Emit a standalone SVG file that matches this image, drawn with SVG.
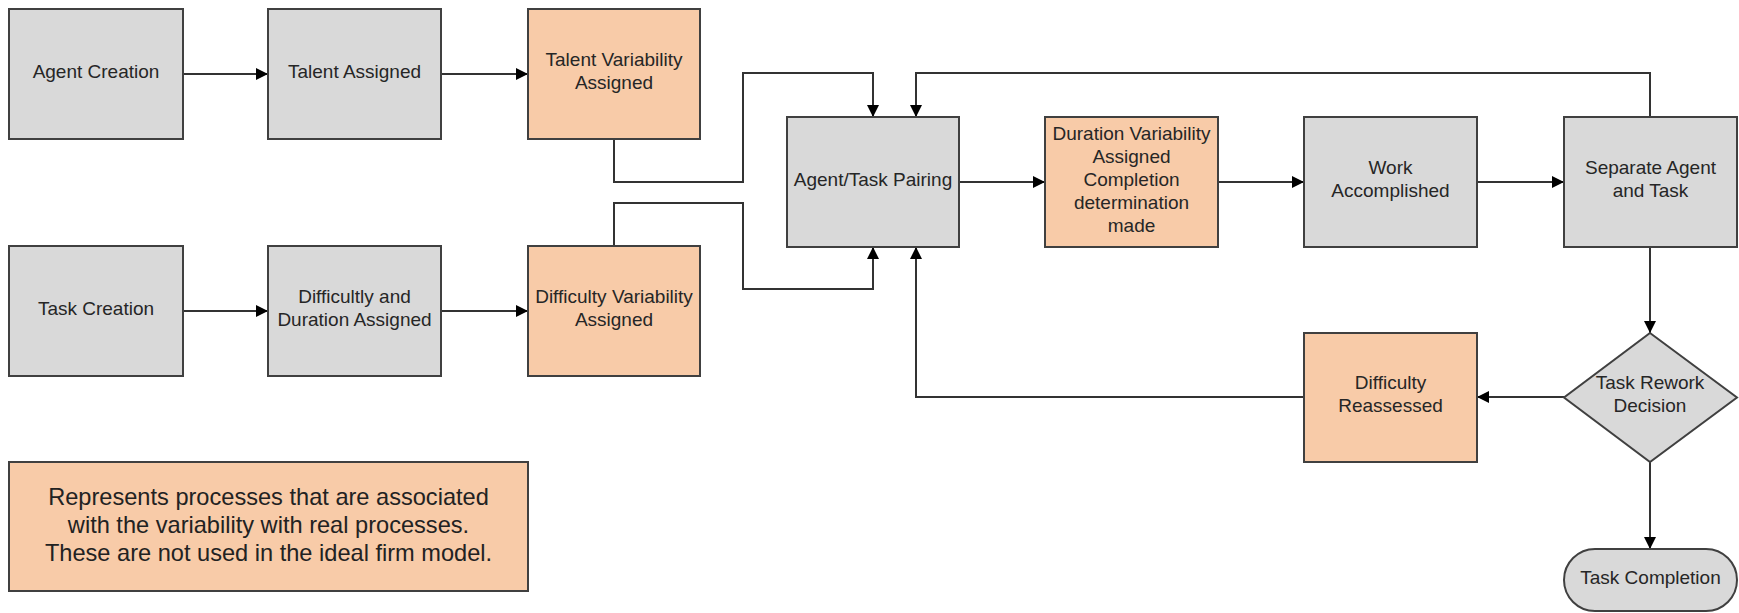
<svg xmlns="http://www.w3.org/2000/svg" width="1739" height="613" viewBox="0 0 1739 613">
<style>
.box{stroke:#404040;stroke-width:2}
.g{fill:#d9d9d9}
.o{fill:#f8cba8}
.t{font-family:"Liberation Sans",Arial,sans-serif;font-size:19px;fill:#262626;text-anchor:middle}
.lg{font-family:"Liberation Sans",Arial,sans-serif;font-size:23.6px;fill:#222;text-anchor:middle}
.c{fill:none;stroke:#333;stroke-width:2}
</style>
<defs>
<marker id="ah" markerUnits="userSpaceOnUse" markerWidth="13" markerHeight="12" refX="12" refY="6" orient="auto">
<path d="M0,0 L12,6 L0,12 z" fill="#000"/>
</marker>
</defs>
<g id="connectors">
<path class="c" d="M183,74 H268" marker-end="url(#ah)"/>
<path class="c" d="M441,74 H528" marker-end="url(#ah)"/>
<path class="c" d="M183,311 H268" marker-end="url(#ah)"/>
<path class="c" d="M441,311 H528" marker-end="url(#ah)"/>
<path class="c" d="M614,139 V182 H743 V73 H873 V117" marker-end="url(#ah)"/>
<path class="c" d="M614,246 V203 H743 V289 H873 V247" marker-end="url(#ah)"/>
<path class="c" d="M1650,116 V73 H916 V117" marker-end="url(#ah)"/>
<path class="c" d="M1304,397 H916 V247" marker-end="url(#ah)"/>
<path class="c" d="M959,182 H1045" marker-end="url(#ah)"/>
<path class="c" d="M1218,182 H1304" marker-end="url(#ah)"/>
<path class="c" d="M1477,182 H1564" marker-end="url(#ah)"/>
<path class="c" d="M1650,247 V333" marker-end="url(#ah)"/>
<path class="c" d="M1564,397 H1477" marker-end="url(#ah)"/>
<path class="c" d="M1650,462 V549" marker-end="url(#ah)"/>
</g>
<g id="agent-creation"><rect class="box g" x="9" y="9" width="174" height="130"/><text class="t" x="96" y="78">Agent Creation</text></g>
<g id="talent-assigned"><rect class="box g" x="268" y="9" width="173" height="130"/><text class="t" x="354.5" y="78">Talent Assigned</text></g>
<g id="talent-variability"><rect class="box o" x="528" y="9" width="172" height="130"/><text class="t" x="614" y="66">Talent Variability</text><text class="t" x="614" y="89">Assigned</text></g>
<g id="task-creation"><rect class="box g" x="9" y="246" width="174" height="130"/><text class="t" x="96" y="315">Task Creation</text></g>
<g id="difficulty-duration"><rect class="box g" x="268" y="246" width="173" height="130"/><text class="t" x="354.5" y="303">Difficultly and</text><text class="t" x="354.5" y="326">Duration Assigned</text></g>
<g id="difficulty-variability"><rect class="box o" x="528" y="246" width="172" height="130"/><text class="t" x="614" y="303">Difficulty Variability</text><text class="t" x="614" y="326">Assigned</text></g>
<g id="agent-task-pairing"><rect class="box g" x="787" y="117" width="172" height="130"/><text class="t" x="873" y="186">Agent/Task Pairing</text></g>
<g id="duration-variability"><rect class="box o" x="1045" y="117" width="173" height="130"/><text class="t" x="1131.5" y="140">Duration Variability</text><text class="t" x="1131.5" y="163">Assigned</text><text class="t" x="1131.5" y="186">Completion</text><text class="t" x="1131.5" y="209">determination</text><text class="t" x="1131.5" y="232">made</text></g>
<g id="work-accomplished"><rect class="box g" x="1304" y="117" width="173" height="130"/><text class="t" x="1390.5" y="174">Work</text><text class="t" x="1390.5" y="197">Accomplished</text></g>
<g id="separate-agent-task"><rect class="box g" x="1564" y="117" width="173" height="130"/><text class="t" x="1650.5" y="174">Separate Agent</text><text class="t" x="1650.5" y="197">and Task</text></g>
<g id="difficulty-reassessed"><rect class="box o" x="1304" y="333" width="173" height="129"/><text class="t" x="1390.5" y="389">Difficulty</text><text class="t" x="1390.5" y="412">Reassessed</text></g>
<g id="task-rework-decision"><polygon class="box g" points="1650,333 1737,397.5 1650,462 1564,397.5"/><text class="t" x="1650" y="389">Task Rework</text><text class="t" x="1650" y="412">Decision</text></g>
<g id="task-completion"><rect class="box g" x="1564" y="549" width="173" height="62" rx="31" ry="31"/><text class="t" x="1650.5" y="584">Task Completion</text></g>
<g id="legend"><rect class="box o" x="9" y="462" width="519" height="129"/><text class="lg" x="268.5" y="505">Represents processes that are associated</text><text class="lg" x="268.5" y="533">with the variability with real processes.</text><text class="lg" x="268.5" y="561">These are not used in the ideal firm model.</text></g>
</svg>
